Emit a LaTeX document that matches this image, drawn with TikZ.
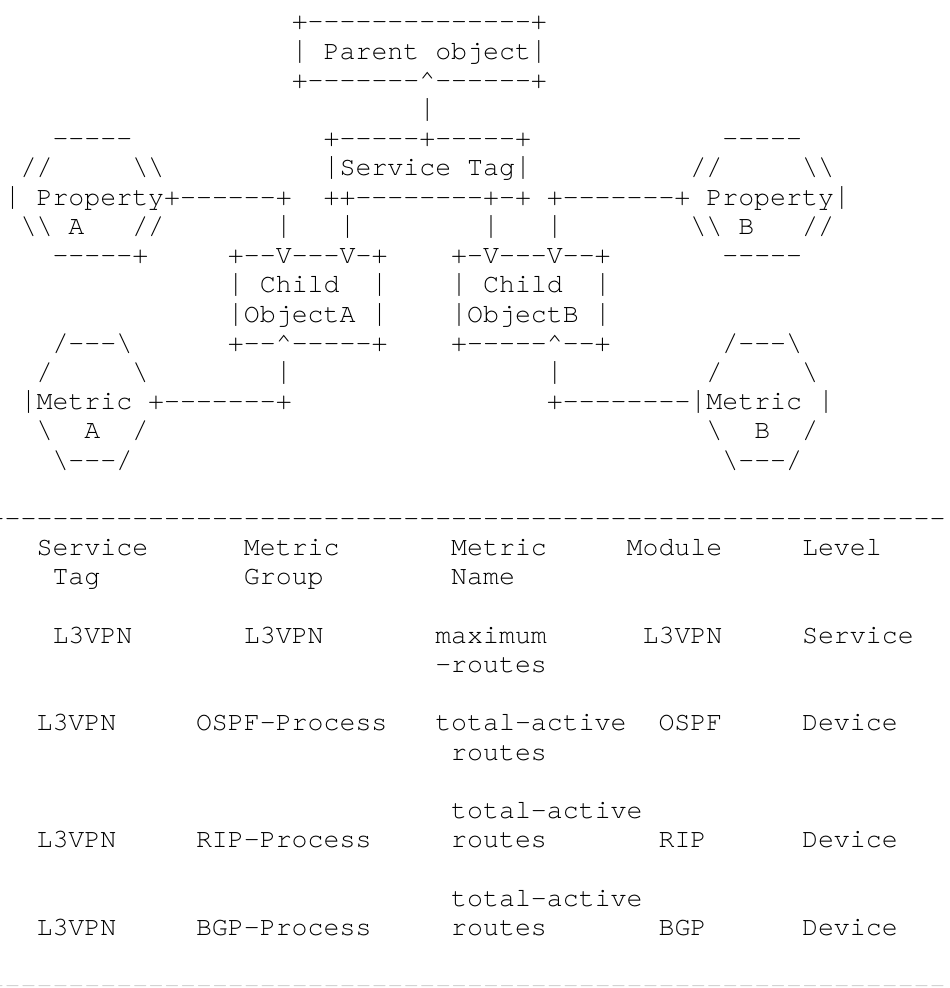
\documentclass[tikz,border=0pt]{standalone}
\usepackage{fontspec}
\setmonofont{texgyrecursor-regular.otf}
\newcommand{\bs}{\textbackslash}
\newcommand{\up}{\textasciicircum}
\newcommand{\vb}{\scalebox{1}[1.18]{|}}
\newcommand{\sk}[1]{\kern#1\fontcharwd\font`x\relax}
\newcommand{\R}[1]{29.9+(#1-1)*29.21}
\begin{document}
\begin{tikzpicture}[x=1pt,y=-1pt,
  ln/.style={anchor=base west, inner sep=0pt, outer sep=0pt,
    font=\ttfamily\fontsize{26.58}{29.21}\selectfont, text=black},
  faint/.style={ln, text=black!18}]
\useasboundingbox (0,0) rectangle (950,988);
\def\X{4.7}
% ---- diagram ----
\node[ln] (l1)  at (\X,{\R{1}})  {\sk{18}+--------------+};
\node[ln] (l2)  at (\X,{\R{2}})  {\sk{18}\vb\sk{1}Parent\sk{1}object\vb};
\node[ln] (l3)  at (\X,{\R{3}})  {\sk{18}+-------\up------+};
\node[ln] (l4)  at (\X,{\R{4}})  {\sk{26}\vb};
\node[ln] (l5)  at (\X,{\R{5}})  {\sk{3}-----\sk{12}+-----+-----+\sk{12}-----};
\node[ln] (l6)  at (\X,{\R{6}})  {\sk{1}//\sk{5}\bs\bs\sk{10}\vb Service\sk{1}Tag\vb\sk{10}//\sk{5}\bs\bs};
\node[ln] (l7)  at (\X,{\R{7}})  {\vb\sk{1}Property+------+\sk{2}++--------+-+\sk{1}+-------+\sk{1}Property\vb};
\node[ln] (l8)  at (\X,{\R{8}})  {\sk{1}\bs\bs\sk{1}A\sk{3}//\sk{7}\vb\sk{3}\vb\sk{8}\vb\sk{3}\vb\sk{8}\bs\bs\sk{1}B\sk{3}//};
\node[ln] (l9)  at (\X,{\R{9}})  {\sk{3}-----+\sk{5}+--V---V-+\sk{4}+-V---V--+\sk{7}-----};
\node[ln] (l10) at (\X,{\R{10}}) {\sk{14}\vb\sk{1}Child\sk{2}\vb\sk{4}\vb\sk{1}Child\sk{2}\vb};
\node[ln] (l11) at (\X,{\R{11}}) {\sk{14}\vb ObjectA\sk{1}\vb\sk{4}\vb ObjectB\sk{1}\vb};
\node[ln] (l12) at (\X,{\R{12}}) {\sk{3}/---\bs\sk{6}+--\up-----+\sk{4}+-----\up--+\sk{7}/---\bs};
\node[ln] (l13) at (\X,{\R{13}}) {\sk{2}/\sk{5}\bs\sk{8}\vb\sk{16}\vb\sk{9}/\sk{5}\bs};
\node[ln] (l14) at (\X,{\R{14}}) {\sk{1}\vb Metric\sk{1}+-------+\sk{16}+--------\vb Metric\sk{1}\vb};
\node[ln] (l15) at (\X,{\R{15}}) {\sk{2}\bs\sk{2}A\sk{2}/\sk{35}\bs\sk{2}B\sk{2}/};
\node[ln] (l16) at (\X,{\R{16}}) {\sk{3}\bs---/\sk{37}\bs---/};
% ---- separator ----
\node[ln] (l18) at (\X-15.95,{\R{18}}) {------------------------------------------------------------};
% ---- table ----
\node[ln] (l19) at (\X,{\R{19}}) {\sk{2}Service\sk{6}Metric\sk{7}Metric\sk{5}Module\sk{5}Level};
\node[ln] (l20) at (\X,{\R{20}}) {\sk{3}Tag\sk{9}Group\sk{8}Name};
\node[ln] (l22) at (\X,{\R{22}}) {\sk{3}L3VPN\sk{7}L3VPN\sk{7}maximum\sk{6}L3VPN\sk{5}Service};
\node[ln] (l23) at (\X,{\R{23}}) {\sk{27}-routes};
\node[ln] (l25) at (\X,{\R{25}}) {\sk{2}L3VPN\sk{5}OSPF-Process\sk{3}total-active\sk{2}OSPF\sk{5}Device};
\node[ln] (l26) at (\X,{\R{26}}) {\sk{28}routes};
\node[ln] (l28) at (\X,{\R{28}}) {\sk{28}total-active};
\node[ln] (l29) at (\X,{\R{29}}) {\sk{2}L3VPN\sk{5}RIP-Process\sk{5}routes\sk{7}RIP\sk{6}Device};
\node[ln] (l31) at (\X,{\R{31}}) {\sk{28}total-active};
\node[ln] (l32) at (\X,{\R{32}}) {\sk{2}L3VPN\sk{5}BGP-Process\sk{5}routes\sk{7}BGP\sk{6}Device};
% ---- faint cut-off separator ----
\node[faint] (l34) at (\X-15.95,{\R{34}}) {------------------------------------------------------------};
\end{tikzpicture}
\end{document}
